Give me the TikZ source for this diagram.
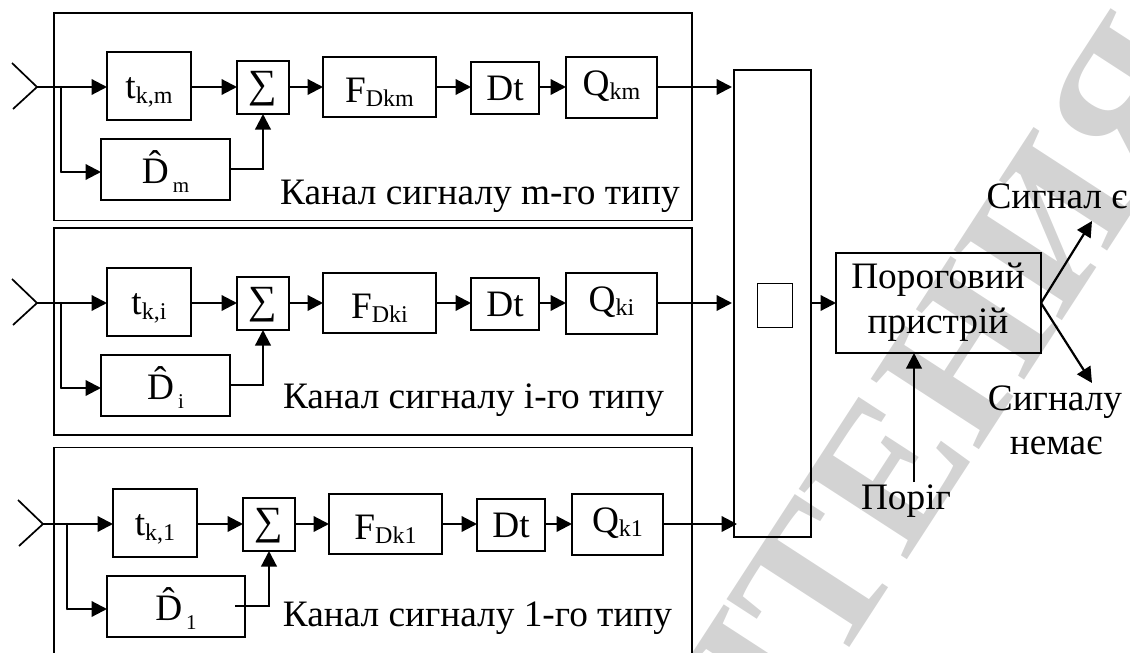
\documentclass[tikz,border=0pt]{standalone}
\usepackage{fontspec}
\setmainfont{Liberation Serif}
\usetikzlibrary{arrows.meta,calc}
\definecolor{wm}{HTML}{D3D3D3}
\newcommand{\mainsz}{\fontsize{37.3}{40}\selectfont}
\newcommand{\tsub}[1]{\raisebox{-4.5pt}{\fontsize{24}{24}\selectfont #1}}
\newcommand{\hatD}[1]{\makebox[0pt][l]{\hspace{7pt}\raisebox{7pt}{\symbol{"02C6}}}D\hspace{4pt}\raisebox{-9pt}{\fontsize{21}{24}\selectfont #1}}
\newcommand{\sumsign}{{\fontsize{40}{44}\selectfont\symbol{"2211}}}
\tikzset{
 block/.style={draw=black,line width=1.5pt,inner sep=0pt,outer sep=0pt,align=center,font=\mainsz,fill=none},
 lab/.style={inner sep=0pt,outer sep=0pt,font=\mainsz,anchor=base},
 wire/.style={draw=black,line width=2.2pt},
 arr/.style={wire,-{Triangle[length=15.5pt,width=15.5pt]}},
 ant/.style={draw=black,line width=1.7pt},
}
\newcommand{\blk}[7]{%
 \pgfmathsetmacro{\bw}{(#4)-(#2)}\pgfmathsetmacro{\bh}{(#5)-(#3)}%
 \pgfmathsetmacro{\bx}{((#4)+(#2))/2}\pgfmathsetmacro{\by}{((#5)+(#3))/2}%
 \pgfmathsetmacro{\th}{#6+20}\pgfmathsetmacro{\td}{20-(#6)}%
 \node[block,minimum width=\bw pt,minimum height=\bh pt,text height=\th pt,text depth=\td pt] (#1) at (\bx,\by) {#7};}
\newcommand{\chan}[9]{%
 \pgfmathsetmacro{\xo}{#2}\pgfmathsetmacro{\yo}{#3}%
 \coordinate (r#1) at (0,87+\yo);
 \blk{t#1}{107+\xo}{52+\yo}{191+\xo}{120+\yo}{12.5}{#4}
 \blk{s#1}{237+\xo}{61+\yo}{289+\xo}{114+\yo}{10}{\sumsign}
 \blk{f#1}{323+\xo}{57+\yo}{436+\xo}{117+\yo}{15}{#5}
 \blk{d#1}{471+\xo}{62+\yo}{539+\xo}{114+\yo}{12}{Dt}
 \blk{q#1}{566+\xo}{57+\yo}{657+\xo}{118+\yo}{7.5}{#6}
 \blk{e#1}{101+\xo}{139+\yo}{#8}{200+\yo}{13.5}{#7}
 \coordinate (a#1) at (37+\xo,87+\yo);
 \coordinate (au#1) at (12+\xo,63+\yo);
 \coordinate (al#1) at (13+\xo,109+\yo);
 \coordinate (j#1) at (61+\xo,87+\yo);
 \coordinate (c#1) at (61+\xo,172+\yo);
 \coordinate (o#1) at (263+\xo,169+\yo);
 \coordinate (x#1) at (#9,169+\yo);
 \draw[ant] (au#1) -- (a#1) -- (al#1);
 \draw[arr] (a#1) -- (t#1.west |- r#1);
 \draw[arr] (t#1.east |- r#1) -- (s#1.west |- r#1);
 \draw[arr] (s#1.east |- r#1) -- (f#1.west |- r#1);
 \draw[arr] (f#1.east |- r#1) -- (d#1.west |- r#1);
 \draw[arr] (d#1.east |- r#1) -- (q#1.west |- r#1);
 \draw[wire,line cap=round,line join=round] (j#1) -- (c#1);
 \draw[arr] (c#1) -- (e#1.west |- c#1);
 \draw[arr,line join=miter] (x#1) -- (o#1) -- (s#1.south -| o#1);
}
\begin{document}
\begin{tikzpicture}[x=1pt,y=-1pt]
\useasboundingbox (0,0) rectangle (1130,653);
\begin{scope}
\clip (0,0) rectangle (1130,653);
\node[text=wm,inner sep=0pt,rotate=57,anchor=base west,font=\fontsize{197}{200}\selectfont\bfseries] (wmark) at (755,794) {ЧТЕНИЯ};
\node[draw=black,line width=1.5pt,minimum width=638pt,minimum height=230pt,inner sep=0pt,outer sep=0pt] (p3) at (373,562.5) {};
\end{scope}
\node[draw=black,line width=1.5pt,minimum width=638pt,minimum height=207.5pt,inner sep=0pt,outer sep=0pt] (p1) at (373,116.5) {};
\node[draw=black,line width=1.5pt,minimum width=638pt,minimum height=207pt,inner sep=0pt,outer sep=0pt] (p2) at (373,331.5) {};
\chan{1}{0}{0}{t\tsub{k,m}}{F\tsub{Dkm}}{Q\tsub{km}}{\hatD{m}}{230}{230}
\chan{2}{0}{216}{t\tsub{k,i}}{F\tsub{Dki}}{Q\tsub{ki}}{\hatD{i}}{230}{230}
\chan{3}{6}{437}{t\tsub{k,1}}{F\tsub{Dk1}}{Q\tsub{k1}}{\hatD{1}}{245}{235}
\node[block,minimum width=77pt,minimum height=467pt] (big) at (772.5,303.5) {};
\node[draw=black,line width=0.8pt,inner sep=0pt,minimum width=35pt,minimum height=44pt] (small) at (774.5,305) {};
\node[block,minimum width=205pt,minimum height=100pt] (thr) at (938.5,303) {};
\node[lab] (thr1) at (938,288) {Пороговий};
\node[lab] (thr2) at (938,333) {пристрій};
\coordinate (inA) at (732,87);
\coordinate (inB) at (732,303);
\coordinate (inC) at (737,524);
\draw[arr] (q1.east |- r1) -- (inA);
\draw[arr] (q2.east |- r2) -- (inB);
\draw[arr] (q3.east |- r3) -- (inC);
\draw[arr] (big.east |- r2) -- (thr.west |- r2);
\node[lab] (lb1) at (480,204) {Канал сигналу m-го типу};
\node[lab] (lb2) at (473.5,408) {Канал сигналу і-го типу};
\node[lab] (lb3) at (477.5,626) {Канал сигналу 1-го типу};
\node[lab] (yes) at (1057,208) {Сигнал є};
\node[lab] (no1) at (1055,410) {Сигналу};
\node[lab] (no2) at (1056,454) {немає};
\node[lab] (por) at (906,509) {Поріг};
\coordinate (porT) at (914,482);
\draw[arr] (porT) -- (thr.south -| porT);
\coordinate (yesE) at (1092,221);
\coordinate (noE) at (1092,383);
\draw[arr] (thr.east) -- (yesE);
\draw[arr] (thr.east) -- (noE);
\end{tikzpicture}
\end{document}
